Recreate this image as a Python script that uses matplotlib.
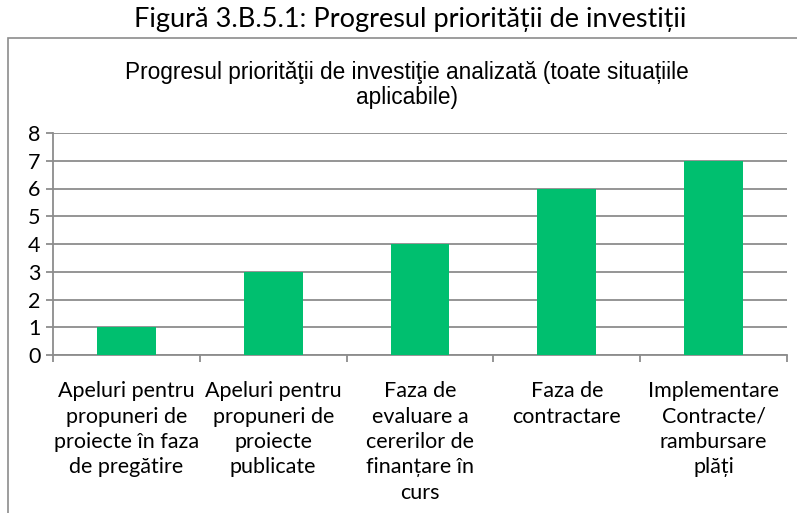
import matplotlib
matplotlib.use("Agg")
import matplotlib.pyplot as plt
from matplotlib.patches import Rectangle

# chart data
categories = [
    "Apeluri pentru\npropuneri de\nproiecte în faza\nde pregătire",
    "Apeluri pentru\npropuneri de\nproiecte\npublicate",
    "Faza de\nevaluare a\ncererilor de\nfinanțare în\ncurs",
    "Faza de\ncontractare",
    "Implementare\nContracte/\nrambursare\nplăți",
]
values = [1, 3, 4, 6, 7]
y_ticks = [0, 1, 2, 3, 4, 5, 6, 7, 8]

BAR_COLOR = "#00BF6F"
GRID_COLOR = "#8C8C8C"
LABEL_FONT = ["Lato", "DejaVu Sans"]
TITLE_FONT = ["Liberation Sans Narrow", "Liberation Sans", "DejaVu Sans"]

fig = plt.figure(figsize=(7.97, 5.13), dpi=100)

# outer chart frame
frame = Rectangle((8 / 797, -0.05), 1.0, 0.05 + (513 - 38) / 513,
                  transform=fig.transFigure, fill=False,
                  edgecolor="#8C8C8C", linewidth=1.2)
fig.patches.append(frame)

fig.text(0.515, 0.962, "Figură 3.B.5.1: Progresul priorității de investiții",
         ha="center", va="center", fontsize=19.5, family=LABEL_FONT)
fig.text(0.511, 0.835, "Progresul prioritǎţii de investiţie analizată (toate situațiile\naplicabile)",
         ha="center", va="center", fontsize=16.3, family=TITLE_FONT,
         linespacing=1.12)

ax = fig.add_axes([53 / 797, (513 - 355) / 513, 734 / 797, 222 / 513])
x = range(len(categories))
ax.bar(x, values, width=0.4, color=BAR_COLOR, zorder=3)

ax.set_xlim(-0.5, len(categories) - 0.5)
ax.set_ylim(0, 8)
ax.set_yticks(y_ticks)
ax.set_yticklabels([str(t) for t in y_ticks], family=LABEL_FONT, fontsize=15.5)
ax.yaxis.grid(True, color=GRID_COLOR, linewidth=1.3, zorder=0)

ax.set_xticks(list(x))
ax.set_xticklabels(categories, family=LABEL_FONT, fontsize=15.5,
                   linespacing=1.33, va="top")
ax.tick_params(axis="x", which="major", length=0, pad=19)
ax.set_xticks([i - 0.5 for i in range(len(categories) + 1)], minor=True)
ax.tick_params(axis="x", which="minor", length=5, width=1.3, color=GRID_COLOR)
ax.tick_params(axis="y", length=5, width=1.3, color=GRID_COLOR, pad=4)

for side in ["top", "right"]:
    ax.spines[side].set_visible(False)
for side in ["left", "bottom"]:
    ax.spines[side].set_color(GRID_COLOR)
    ax.spines[side].set_linewidth(1.3)

fig.savefig("out.png", dpi=100)
